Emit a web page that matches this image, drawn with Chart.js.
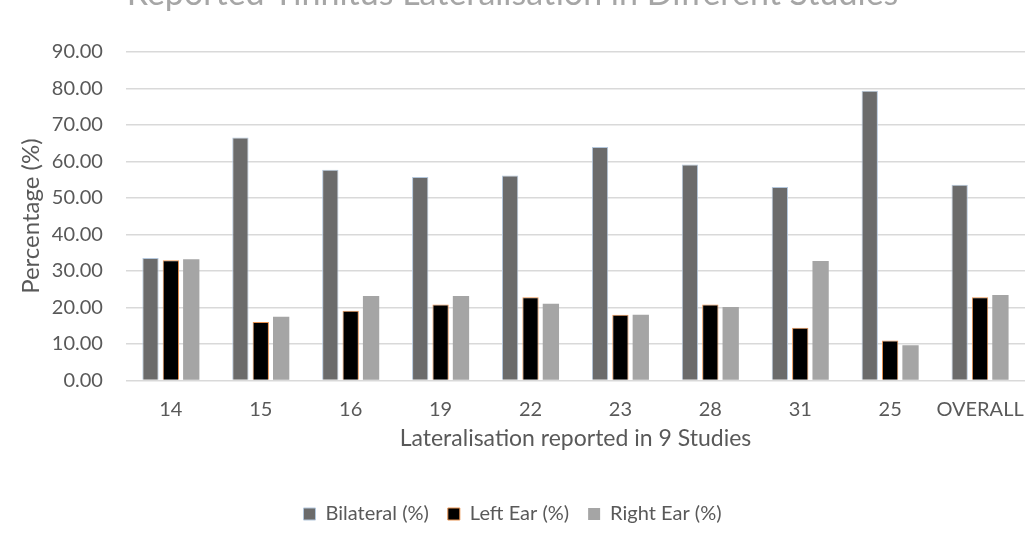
<!DOCTYPE html>
<html>
<head>
<meta charset="utf-8">
<script src="https://cdn.jsdelivr.net/npm/chart.js@4"></script>
<style>
  body { margin: 0; background: #fff; }
  #wrap { width: 1027px; height: 534px; overflow: hidden; position: relative; }
  #chart { position: absolute; left: 0; top: -26px; }
</style>
</head>
<body>
<div id="wrap"><canvas id="chart" width="1027" height="560"></canvas></div>
<script>
"use strict";

var studies = ["14", "15", "16", "19", "22", "23", "28", "31", "25", "OVERALL"];
var bilateral = [33.5, 66.5, 57.7, 55.7, 56.1, 63.9, 59.1, 53.0, 79.3, 53.6];
var leftEar = [32.9, 16.0, 19.1, 20.8, 22.8, 18.0, 20.8, 14.4, 10.9, 22.8];
var rightEar = [33.2, 17.4, 23.1, 23.1, 21.0, 18.0, 20.1, 32.7, 9.6, 23.4];

var yMax = 90;
var yStep = 10;

var font = "Lato, 'Open Sans', sans-serif";
var grey = "#595959";

var ctx = document.getElementById("chart").getContext("2d");
var myChart = new Chart(ctx, {
  type: "bar",
  data: {
    labels: studies,
    datasets: [{
      label: "Bilateral (%)",
      data: bilateral,
      backgroundColor: "#6b6b6b",
      borderColor: "#b4c7dc",
      borderWidth: 1
    }, {
      label: "Left Ear (%)",
      data: leftEar,
      backgroundColor: "#000000",
      borderColor: "#e8914f",
      borderWidth: 1
    }, {
      label: "Right Ear (%)",
      data: rightEar,
      backgroundColor: "#a5a5a5",
      borderColor: "#a5a5a5",
      borderWidth: 0
    }]
  },
  options: {
    responsive: false,
    animation: false,
    categoryPercentage: 0.68,
    barPercentage: 0.8,
    layout: { padding: { left: 0, right: 2, top: 0, bottom: 0 } },
    plugins: {
      title: {
        display: true,
        text: "Reported Tinnitus Lateralisation in Different Studies",
        color: "#a6a6a6",
        font: { family: font, size: 34, weight: "normal" },
        padding: { top: 0, bottom: 37 }
      },
      legend: {
        position: "bottom",
        labels: {
          color: grey,
          font: { family: font, size: 20 },
          boxWidth: 12,
          boxHeight: 12,
          padding: 19
        }
      },
      tooltip: { enabled: false }
    },
    scales: {
      x: {
        // invisible tick marks keep the labels off the axis without extra padding
        grid: { color: "rgba(0,0,0,0)", drawTicks: true, tickLength: 17 },
        border: { display: false },
        ticks: {
          color: grey,
          font: { family: font, size: 20 },
          padding: 0,
          maxRotation: 0,
          autoSkip: false
        },
        title: {
          display: true,
          text: "Lateralisation reported in 9 Studies",
          color: grey,
          font: { family: font, size: 23 },
          padding: { top: 3, bottom: 33 }
        }
      },
      y: {
        min: 0,
        max: yMax,
        grid: { color: "#d9d9d9", lineWidth: 1.5, drawTicks: false },
        border: { display: false },
        afterFit: function(scale) { scale.width -= 21; },
        ticks: {
          stepSize: yStep,
          color: grey,
          font: { family: font, size: 20 },
          padding: 23,
          callback: function(v) { return v.toFixed(2); }
        },
        title: {
          display: true,
          text: "Percentage (%)",
          color: grey,
          font: { family: font, size: 24 },
          padding: { top: 17, bottom: 4 }
        }
      }
    }
  }
});
</script>
</body>
</html>
